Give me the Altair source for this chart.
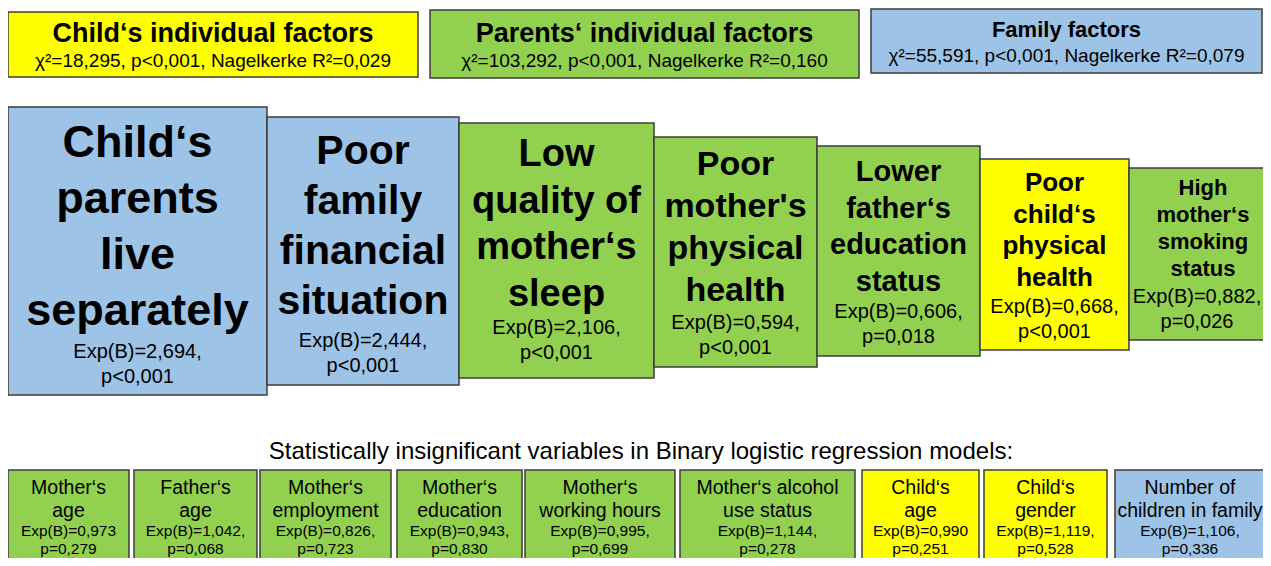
import altair as alt
import pandas as pd

# ---------------- content ----------------
groups = ["child", "parents", "family"]
group_colors = ["#FFFF00", "#92D050", "#9DC3E6"]

header_titles = ["Child‘s individual factors", "Parents‘ individual factors", "Family factors"]
header_stats = [
    "χ²=18,295, p<0,001, Nagelkerke R²=0,029",
    "χ²=103,292, p<0,001, Nagelkerke R²=0,160",
    "χ²=55,591, p<0,001, Nagelkerke R²=0,079",
]

sig_names = [
    ["Child‘s", "parents", "live", "separately"],
    ["Poor", "family", "financial", "situation"],
    ["Low", "quality of", "mother‘s", "sleep"],
    ["Poor", "mother's", "physical", "health"],
    ["Lower", "father‘s", "education", "status"],
    ["Poor", "child‘s", "physical", "health"],
    ["High", "mother‘s", "smoking", "status"],
]
sig_exp = ["2,694", "2,444", "2,106", "0,594", "0,606", "0,668", "0,882"]
sig_p = ["p<0,001", "p<0,001", "p<0,001", "p<0,001", "p=0,018", "p<0,001", "p=0,026"]
sig_group = ["family", "family", "parents", "parents", "parents", "child", "parents"]

insig_title = "Statistically insignificant variables in Binary logistic regression models:"
insig_names = [
    ["Mother‘s", "age"],
    ["Father‘s", "age"],
    ["Mother‘s", "employment"],
    ["Mother‘s", "education"],
    ["Mother‘s", "working hours"],
    ["Mother‘s alcohol", "use status"],
    ["Child‘s", "age"],
    ["Child‘s", "gender"],
    ["Number of", "children in family"],
]
insig_exp = ["0,973", "1,042", "0,826", "0,943", "0,995", "1,144", "0,990", "1,119", "1,106"]
insig_comma = [False, True, True, True, True, True, False, True, True]
insig_p = ["p=0,279", "p=0,068", "p=0,723", "p=0,830", "p=0,699", "p=0,278", "p=0,251", "p=0,528", "p=0,336"]
insig_group = ["parents"] * 6 + ["child", "child", "family"]

# ---------------- layout (page pixel positions) ----------------
hdr_x0 = [8, 430, 871]
hdr_x1 = [418, 859, 1262]
hdr_y0 = [12, 10, 9]
hdr_y1 = [77, 78, 73]
hdr_title_y = [34, 34, 30]
hdr_title_fs = [27, 27, 22]
hdr_sub_y = [61, 61, 56]
hdr_sub_fs = 19

sig_x0 = [8, 267, 459, 654, 817, 980, 1129]
sig_x1 = [267, 459, 654, 817, 980, 1129, 1280]
sig_cx = [137.5, 363, 556.5, 735.5, 898.5, 1054.5, 1203]
sig_exp_cx = [137.5, 363, 556.5, 735.5, 898.5, 1054.5, 1197]
sig_y0 = [107, 117, 123, 137, 146, 159, 168]
sig_y1 = [395, 385, 378, 367, 356, 350, 340]
sig_fs = [45, 41, 38, 34, 29, 26, 22]
sig_line1 = [143, 152, 155, 165, 172, 183, 188]
sig_step = [56, 50, 46.7, 42, 36.5, 31.5, 27]
sig_exp_y = [352, 341, 328, 323, 312, 307, 297]
sig_exp_fs = 20
sig_p_step = 25

insig_title_x, insig_title_y, insig_title_fs = 641, 452, 24
ins_x0 = [8, 134, 260, 397, 525, 680, 862, 984, 1115]
ins_x1 = [129, 257, 391, 522, 675, 855, 979, 1107, 1280]
ins_cx = [68.5, 195.5, 325.5, 459.5, 600, 767.5, 920.5, 1045.5, 1190]
ins_y0, ins_y1 = 470, 600
ins_line_y = [488, 511]
ins_exp_y, ins_p_y = 531, 549
ins_name_fs, ins_exp_fs = 19.5, 15.5

# ---------------- build tables ----------------
rects, bold, norm = [], [], []

for i in range(3):
    cx = (hdr_x0[i] + hdr_x1[i]) / 2
    rects.append(dict(x0=hdr_x0[i], x1=hdr_x1[i], y0=hdr_y0[i], y1=hdr_y1[i], g=groups[i]))
    bold.append(dict(x=cx, y=hdr_title_y[i], t=header_titles[i], fs=hdr_title_fs[i]))
    norm.append(dict(x=cx, y=hdr_sub_y[i], t=header_stats[i], fs=hdr_sub_fs))

for i in range(len(sig_names)):
    rects.append(dict(x0=sig_x0[i], x1=sig_x1[i], y0=sig_y0[i], y1=sig_y1[i], g=sig_group[i]))
    for j, line in enumerate(sig_names[i]):
        bold.append(dict(x=sig_cx[i], y=sig_line1[i] + j * sig_step[i], t=line, fs=sig_fs[i]))
    norm.append(dict(x=sig_exp_cx[i], y=sig_exp_y[i], t="Exp(B)=" + sig_exp[i] + ",", fs=sig_exp_fs))
    norm.append(dict(x=sig_exp_cx[i], y=sig_exp_y[i] + sig_p_step, t=sig_p[i], fs=sig_exp_fs))

norm.append(dict(x=insig_title_x, y=insig_title_y, t=insig_title, fs=insig_title_fs))
for i in range(len(insig_names)):
    rects.append(dict(x0=ins_x0[i], x1=ins_x1[i], y0=ins_y0, y1=ins_y1, g=insig_group[i]))
    for j, line in enumerate(insig_names[i]):
        norm.append(dict(x=ins_cx[i], y=ins_line_y[j], t=line, fs=ins_name_fs))
    norm.append(dict(x=ins_cx[i], y=ins_exp_y,
                     t="Exp(B)=" + insig_exp[i] + ("," if insig_comma[i] else ""), fs=ins_exp_fs))
    norm.append(dict(x=ins_cx[i], y=ins_p_y, t=insig_p[i], fs=ins_exp_fs))

# page has an 8px margin on each side: the view covers page pixels 8..1263 x 8..558
W, H = 1255, 550
X = alt.Scale(domain=[8, 8 + W], nice=False, zero=False)
Y = alt.Scale(domain=[8, 8 + H], nice=False, zero=False, reverse=True)

rect_layer = alt.Chart(pd.DataFrame(rects)).mark_rect(
    stroke="#3c3c3c", strokeWidth=1.5
).encode(
    x=alt.X("x0:Q", scale=X, axis=None),
    x2="x1:Q",
    y=alt.Y("y0:Q", scale=Y, axis=None),
    y2="y1:Q",
    color=alt.Color("g:N", scale=alt.Scale(domain=groups, range=group_colors), legend=None),
)


def text_layer(rows, weight):
    return alt.Chart(pd.DataFrame(rows)).mark_text(
        font="Liberation Sans", fontWeight=weight, color="#000000",
        align="center", baseline="middle"
    ).encode(
        x=alt.X("x:Q", scale=X, axis=None),
        y=alt.Y("y:Q", scale=Y, axis=None),
        text="t:N",
        size=alt.Size("fs:Q", scale=None, legend=None),
    )


chart = alt.layer(
    rect_layer, text_layer(bold, "bold"), text_layer(norm, "normal")
).properties(
    width=W, height=H, padding=0, autosize="none", background="white"
).configure_view(stroke=None)

chart.save("out.html", embed_options={"renderer": "svg", "actions": False})
